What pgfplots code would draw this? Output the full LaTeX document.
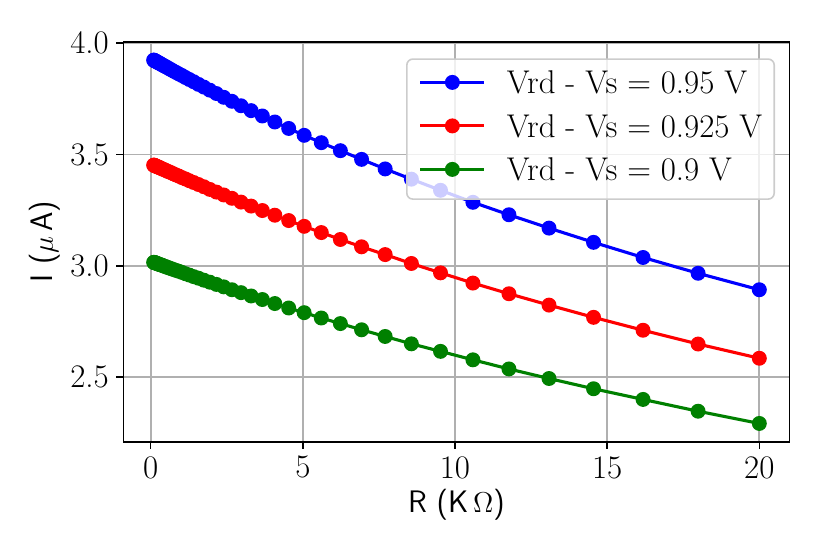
\documentclass[border=0pt]{standalone}
\usepackage{pgfplots}
\usepackage{pgfplotstable}
\pgfplotsset{compat=1.18}
\definecolor{gridgray}{RGB}{176,176,176}
\definecolor{legedge}{RGB}{204,204,204}
\definecolor{mblue}{RGB}{0,0,255}
\definecolor{mred}{RGB}{255,0,0}
\definecolor{mgreen}{RGB}{0,128,0}
\pgfplotstableread{
x b r g
0.1000 3.924 3.452 3.015
0.1112 3.924 3.452 3.015
0.1236 3.922 3.451 3.014
0.1374 3.921 3.450 3.014
0.1528 3.920 3.449 3.013
0.1699 3.919 3.448 3.012
0.1889 3.918 3.447 3.011
0.2100 3.916 3.446 3.010
0.2334 3.914 3.444 3.009
0.2595 3.912 3.443 3.007
0.2885 3.910 3.441 3.006
0.3208 3.908 3.439 3.004
0.3567 3.905 3.437 3.003
0.3965 3.902 3.434 3.001
0.4409 3.898 3.432 2.998
0.4901 3.895 3.429 2.996
0.5449 3.891 3.425 2.993
0.6058 3.886 3.422 2.990
0.6736 3.881 3.418 2.987
0.7488 3.875 3.413 2.983
0.8326 3.869 3.408 2.979
0.9256 3.862 3.403 2.975
1.0291 3.855 3.396 2.970
1.1441 3.846 3.390 2.964
1.2720 3.837 3.382 2.958
1.4142 3.827 3.374 2.951
1.5723 3.815 3.365 2.944
1.7481 3.803 3.355 2.935
1.9435 3.789 3.343 2.926
2.1607 3.774 3.331 2.916
2.4022 3.757 3.318 2.905
2.6708 3.739 3.303 2.892
2.9693 3.719 3.286 2.879
3.3012 3.697 3.268 2.864
3.6702 3.673 3.248 2.848
4.0805 3.646 3.227 2.830
4.5366 3.617 3.203 2.810
5.0437 3.586 3.177 2.789
5.6075 3.553 3.149 2.765
6.2343 3.517 3.118 2.740
6.9312 3.478 3.085 2.712
7.7059 3.435 3.050 2.682
8.5673 3.389 3.010 2.649
9.5250 3.339 2.968 2.615
10.590 3.285 2.922 2.577
11.773 3.229 2.874 2.536
13.090 3.169 2.823 2.493
14.553 3.105 2.768 2.447
16.179 3.037 2.710 2.399
17.988 2.966 2.648 2.346
20.000 2.892 2.584 2.291
}\datatable
\begin{document}
\fontsize{16.5}{19}\selectfont
\begin{tikzpicture}[font=\fontsize{16.5}{19}\selectfont]
\path[use as bounding box] (-61.7bp,-56.15bp) rectangle (353.3bp,220.85bp);
\begin{axis}[
  at={(0,0)}, anchor=south west,
  scale only axis, width=333.1bp, height=199.9bp,
  xmin=-0.895, xmax=20.995, ymin=2.209, ymax=4.006,
  xtick={0,5,10,15,20}, ytick={2.5,3.0,3.5,4.0},
  /pgf/number format/assume math mode=true,
  y tick label style={/pgf/number format/fixed, /pgf/number format/fixed zerofill, /pgf/number format/precision=1},
  tick pos=left, tick align=outside, major tick length=3.5bp,
  every tick/.style={black, line width=0.8bp},
  axis line style={black, line width=0.8bp},
  grid=major, major grid style={gridgray, line width=0.9bp},
  xticklabel style={inner sep=0pt, anchor=north, yshift=-3.6bp},
  yticklabel style={inner sep=0pt, anchor=east, xshift=-3.6bp},
  xlabel={\fontsize{15.6}{18}\selectfont\sffamily R (K$\,\Omega$)},
  ylabel={\fontsize{15.6}{18}\selectfont\sffamily I ($\mu\,$A)},
  xlabel style={at={([yshift=-31.65bp]axis description cs:0.5,0)}, anchor=center},
  ylabel style={at={([xshift=-39.2bp]axis description cs:0,0.5)}, anchor=center},
  legend image code/.code={\draw[fill opacity=1, draw opacity=1, mark repeat=2, mark phase=2] plot coordinates {(0bp,1.6bp) (16bp,1.6bp) (32bp,1.6bp)};},
  legend style={at={(rel axis cs:1,1)}, anchor=north east, xshift=-7.3bp, yshift=-8.2bp,
    draw=legedge, line width=0.8bp, rounded corners=3bp, fill=white, fill opacity=0.8,
    draw opacity=1, text opacity=1, inner xsep=6bp, inner ysep=6bp,
    row sep=7.25bp, column sep=10.5bp,
    nodes={inner sep=0pt, text height=11.3bp, text depth=3.2bp},
    cells={anchor=west}},
  every axis plot/.append style={line width=1.55bp, mark=*, mark size=2.95bp,
    mark options={solid, line width=0.8bp}},
]
\addplot[color=mblue, mark options={fill=mblue}] table[x=x, y=b] {\datatable};
\addlegendentry{Vrd - Vs = 0.95 V}
\addplot[color=mred, mark options={fill=mred}] table[x=x, y=r] {\datatable};
\addlegendentry{Vrd - Vs = 0.925 V}
\addplot[color=mgreen, mark options={fill=mgreen}] table[x=x, y=g] {\datatable};
\addlegendentry{Vrd - Vs = 0.9 V}
\end{axis}
\end{tikzpicture}
\end{document}
